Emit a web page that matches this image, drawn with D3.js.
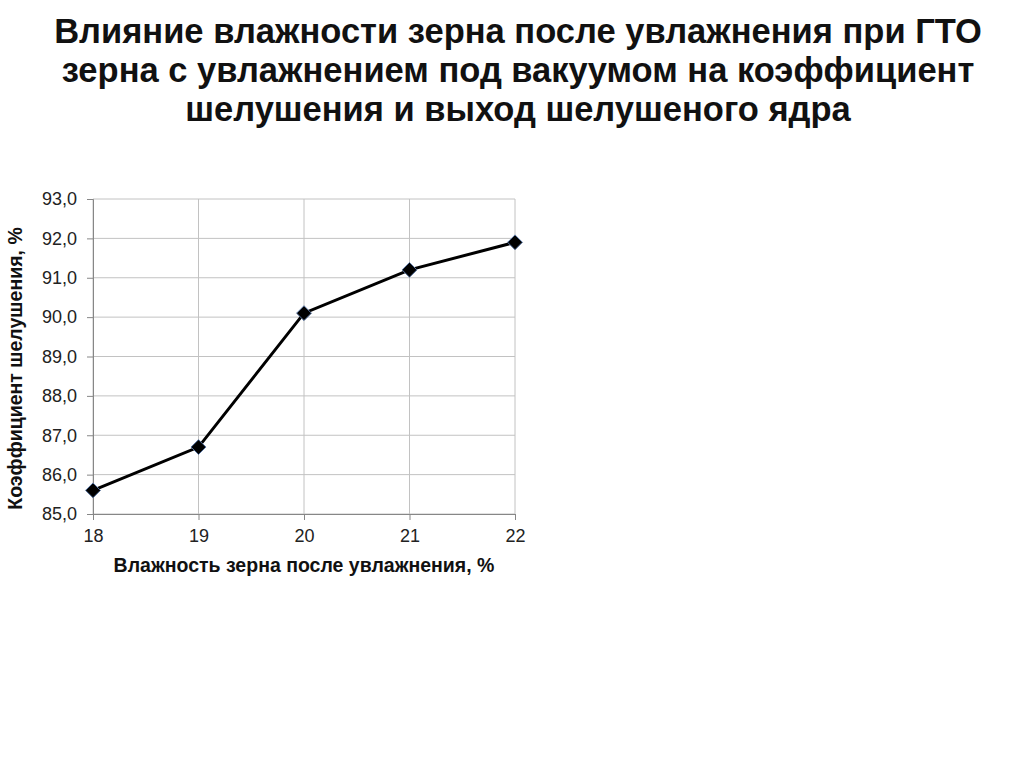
<!DOCTYPE html>
<html>
<head>
<meta charset="utf-8">
<script src="https://cdn.jsdelivr.net/npm/d3@7"></script>
<style>
    body { margin: 0; background: #fff; }
    svg { display: block; }
</style>
</head>
<body>
<div id="wrapper"></div>
<script>
// data
const titleLines = [
    'Влияние влажности зерна после увлажнения при ГТО',
    'зерна с увлажнением под вакуумом на коэффициент',
    'шелушения и выход шелушеного ядра'
]
const moisture = [18, 19, 20, 21, 22]
const hullingCoef = [85.6, 86.7, 90.1, 91.2, 91.9]
const yTicks = [85, 86, 87, 88, 89, 90, 91, 92, 93]

const data = moisture.map((m, i) => ({ x: m, y: hullingCoef[i] }))

// dimensions
const dms = {
    width: 1024,
    height: 767,
    margins: { top: 199, left: 93, right: 509, bottom: 253 }
}
dms.boundedWidth = dms.width - dms.margins.left - dms.margins.right
dms.boundedHeight = dms.height - dms.margins.top - dms.margins.bottom

const font = '"Liberation Sans", Arial, sans-serif'

const svg = d3.select('#wrapper')
    .append('svg')
        .attr('width', dms.width)
        .attr('height', dms.height)

// title
svg.append('g')
    .selectAll('text')
    .data(titleLines)
    .join('text')
        .attr('x', 518)
        .attr('y', (d, i) => 43 + i * 39)
        .attr('text-anchor', 'middle')
        .style('font-family', font)
        .style('font-weight', 'bold')
        .style('font-size', '34.5px')
        .attr('fill', '#111')
        .text(d => d)

const bounds = svg.append('g')
    .attr('transform', `translate(${dms.margins.left},${dms.margins.top})`)

// scales
const xScale = d3.scaleLinear()
    .domain([18, 22])
    .range([0, dms.boundedWidth])

const yScale = d3.scaleLinear()
    .domain([85, 93])
    .range([dms.boundedHeight, 0])

// grid
bounds.append('g')
    .selectAll('line')
    .data(yTicks)
    .join('line')
        .attr('x1', 0)
        .attr('x2', dms.boundedWidth)
        .attr('y1', d => yScale(d))
        .attr('y2', d => yScale(d))
        .attr('stroke', '#c2c2c2')
        .attr('stroke-width', 1)

bounds.append('g')
    .selectAll('line')
    .data(moisture)
    .join('line')
        .attr('x1', d => xScale(d))
        .attr('x2', d => xScale(d))
        .attr('y1', 0)
        .attr('y2', dms.boundedHeight)
        .attr('stroke', '#c2c2c2')
        .attr('stroke-width', 1)

// axes
const yAxis = bounds.append('g')
    .call(d3.axisLeft(yScale)
        .tickValues(yTicks)
        .tickSize(6)
        .tickPadding(10)
        .tickFormat(d => d3.format('.1f')(d).replace('.', ',')))

const xAxis = bounds.append('g')
    .attr('transform', `translate(0,${dms.boundedHeight})`)
    .call(d3.axisBottom(xScale)
        .tickValues(moisture)
        .tickSize(6)
        .tickPadding(9)
        .tickFormat(d3.format('d')))

;[xAxis, yAxis].forEach(ax => {
    ax.select('.domain').attr('stroke', '#878787')
    ax.selectAll('.tick line').attr('stroke', '#878787')
    ax.selectAll('.tick text')
        .attr('fill', '#222')
        .style('font-family', font)
        .style('font-size', '18px')
})

// axis labels
bounds.append('text')
    .attr('x', xScale(20))
    .attr('y', dms.boundedHeight + 58)
    .attr('text-anchor', 'middle')
    .style('font-family', font)
    .style('font-weight', 'bold')
    .style('font-size', '19.5px')
    .attr('fill', '#111')
    .text('Влажность зерна после увлажнения, %')

bounds.append('text')
    .attr('transform', `translate(-71,${dms.boundedHeight / 2 + 12}) rotate(-90)`)
    .attr('text-anchor', 'middle')
    .style('font-family', font)
    .style('font-weight', 'bold')
    .style('font-size', '19.5px')
    .attr('fill', '#111')
    .text('Коэффициент шелушения, %')

// line
const lineGenerator = d3.line()
    .x(d => xScale(d.x))
    .y(d => yScale(d.y))

bounds.append('path')
    .attr('d', lineGenerator(data))
    .attr('fill', 'none')
    .attr('stroke', '#000')
    .attr('stroke-width', 3)

// markers
bounds.append('g')
    .selectAll('path')
    .data(data)
    .join('path')
        .attr('d', d3.symbol(d3.symbolDiamond2, 140))
        .attr('transform', d => `translate(${xScale(d.x)},${yScale(d.y)})`)
        .attr('fill', '#000')
        .attr('stroke', '#56729e')
        .attr('stroke-width', 1)
</script>
</body>
</html>
